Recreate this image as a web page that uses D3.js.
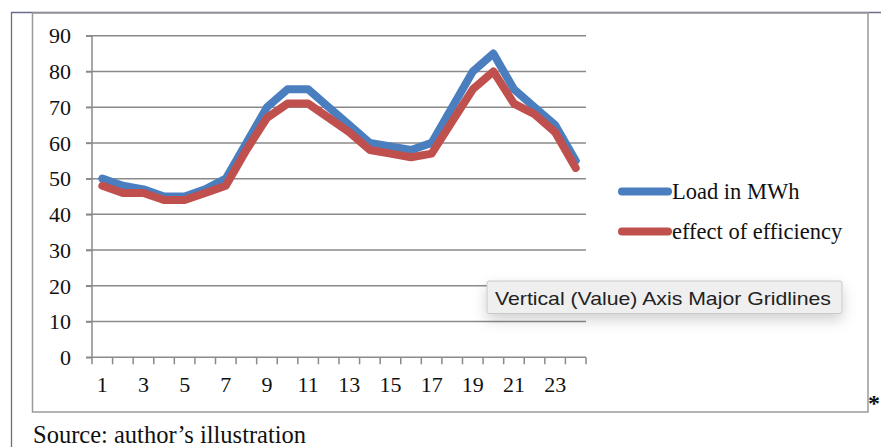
<!DOCTYPE html>
<html>
<head>
<meta charset="utf-8">
<script src="https://cdn.jsdelivr.net/npm/d3@7"></script>
<style>
  html, body { margin: 0; padding: 0; background: #fff; }
  svg { display: block; }
</style>
</head>
<body>
<svg id="chart" width="881" height="447"></svg>
<script>
// Hourly load profile over a day
const hours = d3.range(1, 25);
const loadMWh = [50, 48, 47, 45, 45, 47, 50, 60, 70, 75, 75, 70, 65, 60, 59, 58, 60, 70, 80, 85, 75, 70, 65, 55];
const efficiencyEffect = [48, 46, 46, 44, 44, 46, 48, 58, 67, 71, 71, 67, 63, 58, 57, 56, 57, 66, 75, 80, 71, 68, 63, 53];
const yTicks = [0, 10, 20, 30, 40, 50, 60, 70, 80, 90];
const xTickLabels = [1, 3, 5, 7, 9, 11, 13, 15, 17, 19, 21, 23];
const seriesNames = ["Load in MWh", "effect of efficiency"];
const seriesColors = ["#4a7ebf", "#c0504d"];

const svg = d3.select("#chart");
const serif = "'Liberation Serif', 'Times New Roman', serif";

// page frame
svg.append("line").attr("x1", 11).attr("x2", 881).attr("y1", 12.5).attr("y2", 12.5)
  .attr("stroke", "#6b6b8c").attr("stroke-width", 1.3);
svg.append("line").attr("x1", 11.5).attr("x2", 11.5).attr("y1", 12).attr("y2", 447)
  .attr("stroke", "#6b6b8c").attr("stroke-width", 1.3);

// chart area border
svg.append("rect").attr("x", 32.5).attr("y", 13).attr("width", 835.5).attr("height", 399)
  .attr("fill", "none").attr("stroke", "#9a9a9a").attr("stroke-width", 1.5);

const x = d3.scaleBand().domain(hours).range([92, 586]);
const y = d3.scaleLinear().domain([0, 90]).range([357.3, 35.7]);

// horizontal gridlines with their left ticks
const grid = svg.append("g");
grid.selectAll("line").data(yTicks.filter(d => d > 0)).join("line")
  .attr("x1", 86).attr("x2", 586)
  .attr("y1", d => y(d)).attr("y2", d => y(d))
  .attr("stroke", "#8a8a8a").attr("stroke-width", 1.5);

// y axis
const yAxis = d3.axisLeft(y).tickValues(yTicks).tickSize(6).tickPadding(15);
const gy = svg.append("g").attr("transform", "translate(92,0)").call(yAxis);
gy.select(".domain").attr("stroke", "#8a8a8a").attr("stroke-width", 1.5).attr("d", `M0,${y(90)}V${y(0)}`);
gy.selectAll(".tick line").attr("stroke", "#8a8a8a").attr("stroke-width", 1.5);
gy.selectAll(".tick text").attr("font-family", serif).attr("font-size", 22)
  .attr("fill", "#111").attr("dy", "0.33em");

// x axis: ticks at band boundaries, labels at band centres
const gx = svg.append("g").attr("transform", `translate(0,${y(0)})`);
gx.append("line").attr("x1", 86).attr("x2", 586).attr("y1", 0).attr("y2", 0)
  .attr("stroke", "#8a8a8a").attr("stroke-width", 1.5);
const boundaries = hours.map(h => x(h)).concat([x(24) + x.bandwidth()]);
gx.selectAll("line.tk").data(boundaries).join("line").attr("class", "tk")
  .attr("x1", d => d).attr("x2", d => d).attr("y1", 0).attr("y2", 7)
  .attr("stroke", "#8a8a8a").attr("stroke-width", 1.5);
gx.selectAll("text").data(xTickLabels).join("text")
  .attr("x", d => x(d) + x.bandwidth() / 2).attr("y", 35)
  .attr("text-anchor", "middle").attr("font-family", serif).attr("font-size", 22)
  .attr("fill", "#111").text(d => d);

// series lines
const line = d3.line().x((d, i) => x(hours[i]) + x.bandwidth() / 2).y(d => y(d));
[loadMWh, efficiencyEffect].forEach((vals, k) => {
  svg.append("path").datum(vals).attr("d", line)
    .attr("fill", "none").attr("stroke", seriesColors[k]).attr("stroke-width", 8)
    .attr("stroke-linejoin", "round").attr("stroke-linecap", "round");
});

// legend
const legend = svg.append("g");
seriesNames.forEach((name, k) => {
  const ly = 191.5 + k * 40;
  legend.append("line").attr("x1", 622).attr("x2", 668).attr("y1", ly).attr("y2", ly)
    .attr("stroke", seriesColors[k]).attr("stroke-width", 8).attr("stroke-linecap", "round");
  legend.append("text").attr("x", 672).attr("y", ly + 7)
    .attr("font-family", serif).attr("font-size", 22.5).attr("fill", "#111").text(name);
});

// hover label
const defs = svg.append("defs");
const f = defs.append("filter").attr("id", "tipShadow").attr("x", "-20%").attr("y", "-60%").attr("width", "140%").attr("height", "260%");
f.append("feDropShadow").attr("dx", 0).attr("dy", 6).attr("stdDeviation", 7)
  .attr("flood-color", "#000").attr("flood-opacity", 0.18);
svg.append("rect").attr("x", 487).attr("y", 281).attr("width", 355).attr("height", 32.5)
  .attr("rx", 2).attr("fill", "#efefef").attr("stroke", "#c9c9c9").attr("stroke-width", 1)
  .attr("filter", "url(#tipShadow)");
svg.append("text").attr("x", 495).attr("y", 305)
  .attr("font-family", "'Liberation Sans', Arial, sans-serif").attr("font-size", 18.5)
  .attr("fill", "#222").attr("textLength", 336).attr("lengthAdjust", "spacingAndGlyphs")
  .text("Vertical (Value) Axis Major Gridlines");

// footnote marker and source
svg.append("text").attr("x", 868).attr("y", 411).attr("font-family", serif)
  .attr("font-size", 24).attr("font-weight", "bold").attr("fill", "#111").text("*");
svg.append("text").attr("x", 33).attr("y", 443).attr("font-family", serif)
  .attr("font-size", 24.5).attr("fill", "#111").text("Source: author’s illustration");
</script>
</body>
</html>
